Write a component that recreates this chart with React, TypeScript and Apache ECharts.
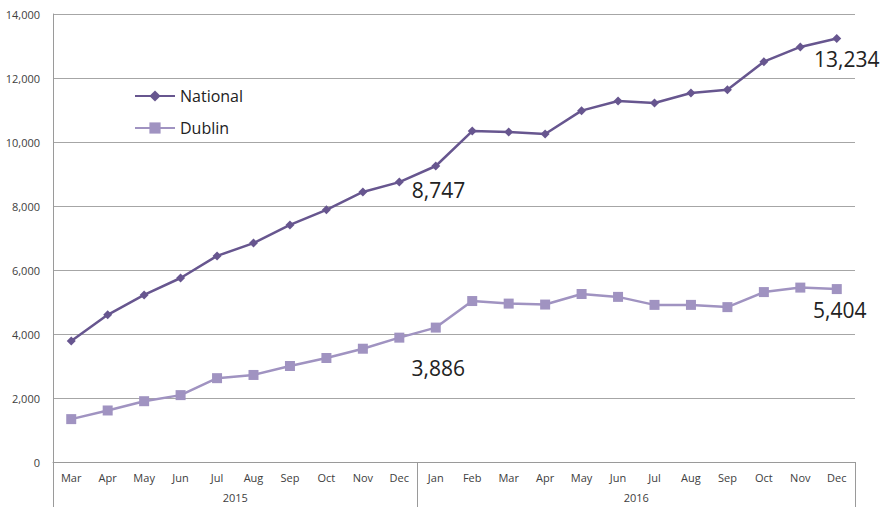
import React, { useEffect, useRef } from "react";
import * as echarts from "echarts";

const months = ["Mar","Apr","May","Jun","Jul","Aug","Sep","Oct","Nov","Dec","Jan","Feb","Mar","Apr","May","Jun","Jul","Aug","Sep","Oct","Nov","Dec"];
const years = ["2015", "2016"];
const yearSpans = [10, 12];
const national = [3780,4600,5220,5750,6440,6840,7410,7880,8440,8747,9250,10340,10310,10250,10980,11280,11220,11530,11630,12510,12970,13234];
const dublin = [1340,1610,1900,2090,2620,2720,3000,3250,3540,3886,4200,5030,4950,4920,5250,5160,4910,4910,4840,5310,5450,5404];
const labelledIdx = [9, 21];

const FONT = "Open Sans";

export default function App() {
  const ref = useRef<HTMLDivElement>(null);
  useEffect(() => {
    if (!ref.current) return;
    const chart = echarts.init(ref.current, null, { renderer: "svg" });
    const fmt = (v: number) => v.toLocaleString("en-US");
    const yearCenters: Record<number, string> = {};
    let acc = 0;
    years.forEach((y, i) => {
      yearCenters[acc + yearSpans[i] / 2] = y;
      acc += yearSpans[i];
    });
    const bigLabel = { fontFamily: FONT, fontSize: 21, color: "#222" };
    const natData = national.map((v, i) => {
      if (i === labelledIdx[0]) return { value: v, label: { show: true, position: "right", offset: [3, 8], formatter: fmt(v), ...bigLabel } };
      if (i === labelledIdx[1]) return { value: v, label: { show: true, position: "bottom", offset: [10, 0], formatter: fmt(v), ...bigLabel } };
      return v;
    });
    const dubData = dublin.map((v, i) => {
      if (i === labelledIdx[0]) return { value: v, label: { show: true, position: "bottom", offset: [39, 10], formatter: fmt(v), ...bigLabel } };
      if (i === labelledIdx[1]) return { value: v, label: { show: true, position: "bottom", offset: [3, 0], formatter: fmt(v), ...bigLabel } };
      return v;
    });
    chart.setOption({
      animation: false,
      backgroundColor: "#fff",
      grid: { left: 53, right: 26, top: 14, bottom: 45, containLabel: false },
      legend: {
        orient: "vertical",
        left: 129,
        top: 83,
        itemWidth: 40,
        itemHeight: 14,
        itemGap: 16,
        textStyle: { fontFamily: FONT, fontSize: 16, color: "#222" },
        data: ["National", "Dublin"],
      },
      xAxis: [
        {
          type: "category",
          data: months,
          boundaryGap: true,
          axisLine: { show: true, lineStyle: { color: "#9a9a9a", width: 1 } },
          axisTick: {
            show: true,
            length: 45,
            interval: (i: number) => i === 0 || i === yearSpans[0],
            lineStyle: { color: "#9a9a9a", width: 1 },
          },
          axisLabel: { interval: 0, margin: 10, fontFamily: FONT, fontSize: 11, color: "#404040" },
        },
        {
          type: "value",
          min: 0,
          max: months.length,
          interval: 1,
          position: "bottom",
          axisLine: { show: false },
          axisTick: { show: false },
          splitLine: { show: false },
          axisLabel: {
            margin: 30,
            showMinLabel: true,
            showMaxLabel: true,
            fontFamily: FONT,
            fontSize: 11,
            color: "#404040",
            formatter: (v: number) => yearCenters[v] || "",
          },
        },
      ],
      yAxis: {
        type: "value",
        min: 0,
        max: 14000,
        interval: 2000,
        axisLine: { show: true, lineStyle: { color: "#9a9a9a", width: 1 } },
        axisTick: { show: false },
        splitLine: { show: true, lineStyle: { color: "#a6a6a6", width: 1 } },
        axisLabel: { margin: 13, fontFamily: FONT, fontSize: 11, color: "#404040", formatter: (v: number) => fmt(v) },
      },
      series: [
        {
          name: "National",
          type: "line",
          data: natData,
          symbol: "diamond",
          symbolSize: 9,
          showAllSymbol: true,
          lineStyle: { color: "#67568f", width: 2.5 },
          itemStyle: { color: "#67568f" },
          z: 3,
        },
        {
          name: "Dublin",
          type: "line",
          data: dubData,
          symbol: "rect",
          symbolSize: 10,
          showAllSymbol: true,
          lineStyle: { color: "#a093c1", width: 2.5 },
          itemStyle: { color: "#a093c1" },
          z: 2,
        },
      ],
    });
    return () => chart.dispose();
  }, []);
  return <div ref={ref} style={{ position: "fixed", left: 0, top: 0, width: 881, height: 507 }} />;
}
